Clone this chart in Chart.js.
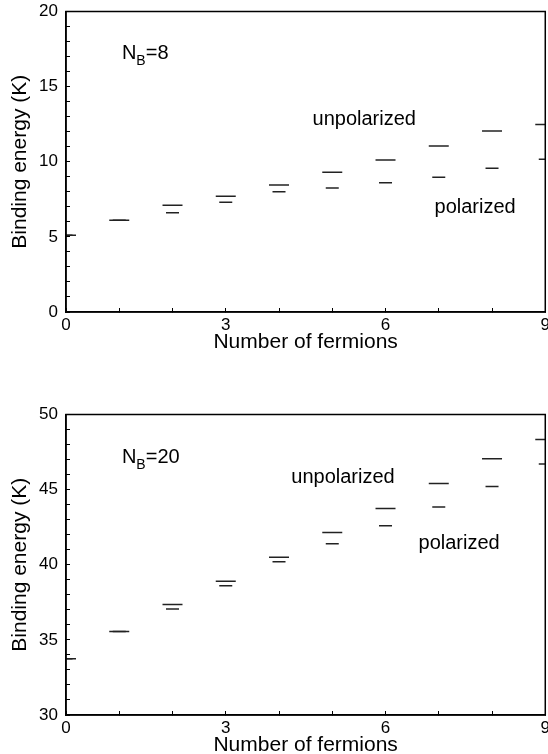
<!DOCTYPE html>
<html>
<head>
<meta charset="utf-8">
<script src="https://cdn.jsdelivr.net/npm/chart.js@4.4.1/dist/chart.umd.min.js"></script>
<style>
    body { margin: 0; background: #fff; overflow: hidden; width: 548px; height: 754px; position: relative; }
    canvas { position: absolute; left: 0; }
    #chartNB8 { top: 0; }
    #chartNB20 { top: 403px; }
</style>
</head>
<body>
<canvas id="chartNB8" width="557" height="390"></canvas>
<canvas id="chartNB20" width="557" height="390"></canvas>
<script>
// Chart data
const fermions = [0, 1, 2, 3, 4, 5, 6, 7, 8, 9];
const unpolarizedNB8 = [5.1, 6.1, 7.1, 7.7, 8.45, 9.3, 10.12, 11.05, 12.05, 12.48];
const polarizedNB8 = [5.1, 6.1, 6.6, 7.3, 8.0, 8.25, 8.6, 8.97, 9.57, 10.17];
const unpolarizedNB20 = [33.75, 35.55, 37.35, 38.9, 40.5, 42.15, 43.75, 45.4, 47.05, 48.33];
const polarizedNB20 = [33.75, 35.55, 37.05, 38.6, 40.2, 41.4, 42.6, 43.85, 45.2, 46.7];

// Tick labels
const xTickLabels = [0, 3, 6, 9];
const yTickLabelsNB8 = [0, 5, 10, 15, 20];
const yTickLabelsNB20 = [30, 35, 40, 45, 50];

const FONT = '"Liberation Sans", Arial, Helvetica, sans-serif';

// Frame around the plot area
const framePlugin = {
    id: 'frame',
    afterDraw(chart) {
        const { ctx, chartArea: a } = chart;
        ctx.save();
        ctx.strokeStyle = '#000';
        ctx.lineWidth = 1.5;
        ctx.strokeRect(a.left, a.top, a.right - a.left, a.bottom - a.top);
        ctx.restore();
    }
};

// Text labels placed in data coordinates
const textPlugin = {
    id: 'texts',
    afterDatasetsDraw(chart, args, opts) {
        const { ctx, scales: { x, y } } = chart;
        ctx.save();
        ctx.fillStyle = '#000';
        ctx.textBaseline = 'alphabetic';
        ctx.textAlign = 'left';
        (opts.items || []).forEach(item => {
            let px = x.getPixelForValue(item.x);
            const py = y.getPixelForValue(item.y);
            item.parts.forEach(part => {
                ctx.font = (part.sub ? 14 : 20) + 'px ' + FONT;
                ctx.fillText(part.text, px, py + (part.sub ? 6 : 0));
                px += ctx.measureText(part.text).width;
            });
        });
        ctx.restore();
    }
};

function toPoints(values) {
    return fermions.map((f, i) => ({ x: f, y: values[i] }));
}

function createPanel(id, unpolarized, polarized, yLabels, texts) {
    const ctx = document.getElementById(id).getContext('2d');
    new Chart(ctx, {
        type: 'scatter',
        data: {
            datasets: [
                {
                    label: 'polarized',
                    data: toPoints(polarized),
                    pointStyle: 'line',
                    radius: 6.5,
                    borderWidth: 1.5,
                    borderColor: '#222',
                    clip: 0
                },
                {
                    label: 'unpolarized',
                    data: toPoints(unpolarized),
                    pointStyle: 'line',
                    radius: 10,
                    borderWidth: 1.5,
                    borderColor: '#222',
                    clip: 0
                }
            ]
        },
        options: {
            responsive: false,
            animation: false,
            devicePixelRatio: 1,
            layout: { padding: { top: 10, right: 0, left: 0, bottom: 0 } },
            plugins: {
                legend: { display: false },
                tooltip: { enabled: false },
                texts: { items: texts }
            },
            scales: {
                x: {
                    type: 'linear',
                    min: xTickLabels[0],
                    max: xTickLabels[xTickLabels.length - 1],
                    afterFit: s => { s.height = 78; },
                    border: { color: '#000', width: 1.5 },
                    grid: { drawOnChartArea: false, drawTicks: true, tickLength: -4, color: '#000' },
                    ticks: {
                        stepSize: 1,
                        autoSkip: false,
                        maxRotation: 0,
                        padding: 7,
                        color: '#000',
                        font: { family: FONT, size: 17 },
                        callback: v => xTickLabels.includes(v) ? String(v) : ''
                    },
                    title: {
                        display: true,
                        text: 'Number of fermions',
                        color: '#000',
                        font: { family: FONT, size: 21 },
                        padding: { top: 0, bottom: 35 }
                    }
                },
                y: {
                    min: yLabels[0],
                    max: yLabels[yLabels.length - 1],
                    afterFit: s => { s.width = 66; s.paddingTop = 0; s.paddingBottom = 0; },
                    border: { color: '#000', width: 1.5 },
                    grid: { drawOnChartArea: false, drawTicks: true, tickLength: -4, color: '#000' },
                    ticks: {
                        stepSize: 1,
                        autoSkip: false,
                        padding: 12,
                        color: '#000',
                        font: { family: FONT, size: 17 },
                        callback: v => yLabels.includes(v) ? String(v) : ''
                    },
                    title: {
                        display: true,
                        text: 'Binding energy (K)',
                        color: '#000',
                        font: { family: FONT, size: 21 },
                        padding: { top: 8, bottom: 0 }
                    }
                }
            }
        },
        plugins: [framePlugin, textPlugin]
    });
}

createPanel('chartNB8', unpolarizedNB8, polarizedNB8, yTickLabelsNB8, [
    { x: 1.05, y: 16.85, parts: [{ text: 'N' }, { text: 'B', sub: true }, { text: '=8' }] },
    { x: 4.63, y: 12.46, parts: [{ text: 'unpolarized' }] },
    { x: 6.92, y: 6.6, parts: [{ text: 'polarized' }] }
]);

createPanel('chartNB20', unpolarizedNB20, polarizedNB20, yTickLabelsNB20, [
    { x: 1.05, y: 46.77, parts: [{ text: 'N' }, { text: 'B', sub: true }, { text: '=20' }] },
    { x: 4.23, y: 45.44, parts: [{ text: 'unpolarized' }] },
    { x: 6.62, y: 41.02, parts: [{ text: 'polarized' }] }
]);
</script>
</body>
</html>
